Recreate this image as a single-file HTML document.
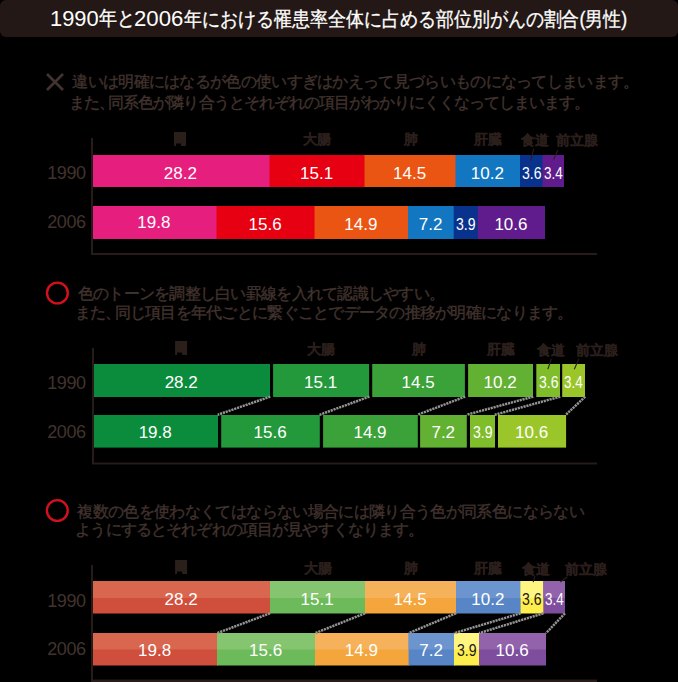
<!DOCTYPE html>
<html><head><meta charset="utf-8"><title>1990年と2006年における罹患率全体に占める部位別がんの割合（男性）</title><style>
html,body{margin:0;padding:0;background:#000;width:678px;height:682px;overflow:hidden}
body{position:relative;font-family:"Liberation Sans",sans-serif}
svg{position:absolute;left:0;top:0}
.t div{position:absolute;white-space:nowrap;transform-origin:0 0}
</style></head><body>
<svg width="678" height="682" viewBox="0 0 678 682">
<path d="M174 132 h12 v14 h-5 v-2.6 h-5 v2.6 h-2 z" fill="#2b1f1c"/>
<path d="M175.1 341 h12 v14 h-5 v-2.6 h-5 v2.6 h-2 z" fill="#2b1f1c"/>
<path d="M175.1 560 h12 v14 h-5 v-2.6 h-5 v2.6 h-2 z" fill="#2b1f1c"/>
<rect x="0" y="0" width="678" height="37" rx="6" ry="6" fill="#231815"/>
<path d="M47 74 L63 90 M63 74 L47 90" stroke="#42332e" stroke-width="2.6" fill="none"/>
<rect x="92.00" y="155.00" width="178.50" height="32.00" fill="#e61e7d"/>
<rect x="92.00" y="206.00" width="125.50" height="33.00" fill="#e61e7d"/>
<rect x="269.50" y="155.00" width="96.00" height="32.00" fill="#e60012"/>
<rect x="216.50" y="206.00" width="99.00" height="33.00" fill="#e60012"/>
<rect x="364.50" y="155.00" width="92.00" height="32.00" fill="#ea5514"/>
<rect x="314.50" y="206.00" width="94.50" height="33.00" fill="#ea5514"/>
<rect x="455.50" y="155.00" width="65.50" height="32.00" fill="#1276c0"/>
<rect x="408.00" y="206.00" width="46.70" height="33.00" fill="#1276c0"/>
<rect x="520.00" y="155.00" width="23.50" height="32.00" fill="#08328c"/>
<rect x="453.70" y="206.00" width="25.10" height="33.00" fill="#08328c"/>
<rect x="542.50" y="155.00" width="21.50" height="32.00" fill="#601c8c"/>
<rect x="477.80" y="206.00" width="67.20" height="33.00" fill="#601c8c"/>
<rect x="91.00" y="138.00" width="2.00" height="117.00" fill="#271c19"/>
<rect x="91.00" y="253.00" width="506.00" height="2.00" fill="#271c19"/>
<line x1="533.70" y1="148.60" x2="530.80" y2="160.40" stroke="#2b1f1c" stroke-width="1.1"/>
<line x1="558.00" y1="150.00" x2="553.50" y2="159.50" stroke="#2b1f1c" stroke-width="1.1"/>
<circle cx="57.4" cy="293" r="10.4" fill="none" stroke="#d3111c" stroke-width="2.4"/>
<rect x="93.30" y="364.00" width="176.70" height="33.00" fill="#0b8c3c"/>
<rect x="93.30" y="415.00" width="124.70" height="32.60" fill="#0b8c3c"/>
<rect x="273.10" y="364.00" width="96.00" height="33.00" fill="#24993c"/>
<rect x="221.20" y="415.00" width="98.60" height="32.60" fill="#24993c"/>
<rect x="372.20" y="364.00" width="92.70" height="33.00" fill="#3ba23a"/>
<rect x="323.10" y="415.00" width="94.70" height="32.60" fill="#3ba23a"/>
<rect x="468.10" y="364.00" width="64.90" height="33.00" fill="#62b133"/>
<rect x="420.10" y="415.00" width="46.70" height="32.60" fill="#62b133"/>
<rect x="536.30" y="364.00" width="23.70" height="33.00" fill="#80bd2b"/>
<rect x="470.00" y="415.00" width="25.00" height="32.60" fill="#80bd2b"/>
<rect x="562.20" y="364.00" width="22.80" height="33.00" fill="#9ac62a"/>
<rect x="498.00" y="415.00" width="68.10" height="32.60" fill="#9ac62a"/>
<rect x="92.00" y="348.00" width="2.00" height="116.00" fill="#271c19"/>
<rect x="92.00" y="462.50" width="505.00" height="2.00" fill="#271c19"/>
<line x1="270.30" y1="396.60" x2="217.70" y2="414.80" stroke="#939393" stroke-width="2.5" stroke-dasharray="2.2 0.8"/>
<line x1="369.40" y1="396.60" x2="319.50" y2="414.80" stroke="#939393" stroke-width="2.5" stroke-dasharray="2.2 0.8"/>
<line x1="465.20" y1="396.60" x2="417.50" y2="414.80" stroke="#939393" stroke-width="2.5" stroke-dasharray="2.2 0.8"/>
<line x1="533.30" y1="396.60" x2="466.50" y2="414.80" stroke="#939393" stroke-width="2.5" stroke-dasharray="2.2 0.8"/>
<line x1="560.30" y1="396.60" x2="494.70" y2="414.80" stroke="#939393" stroke-width="2.5" stroke-dasharray="2.2 0.8"/>
<line x1="585.30" y1="396.60" x2="565.80" y2="414.80" stroke="#939393" stroke-width="2.5" stroke-dasharray="2.2 0.8"/>
<line x1="551.40" y1="358.60" x2="547.90" y2="369.20" stroke="#2b1f1c" stroke-width="1.1"/>
<line x1="579.00" y1="358.60" x2="574.30" y2="369.20" stroke="#2b1f1c" stroke-width="1.1"/>
<circle cx="57.3" cy="510.5" r="10.4" fill="none" stroke="#d3111c" stroke-width="2.4"/>
<rect x="93.00" y="581.00" width="178.00" height="32.50" fill="#cf4e3c"/>
<rect x="93.00" y="581.00" width="178.00" height="17.00" fill="#d9674f"/>
<rect x="93.00" y="633.00" width="125.00" height="32.50" fill="#cf4e3c"/>
<rect x="93.00" y="633.00" width="125.00" height="16.50" fill="#d9674f"/>
<rect x="270.00" y="581.00" width="96.00" height="32.50" fill="#6dba5a"/>
<rect x="270.00" y="581.00" width="96.00" height="17.00" fill="#86c56f"/>
<rect x="217.00" y="633.00" width="99.00" height="32.50" fill="#6dba5a"/>
<rect x="217.00" y="633.00" width="99.00" height="16.50" fill="#86c56f"/>
<rect x="365.00" y="581.00" width="92.00" height="32.50" fill="#f4a53b"/>
<rect x="365.00" y="581.00" width="92.00" height="17.00" fill="#f6b25b"/>
<rect x="315.00" y="633.00" width="94.60" height="32.50" fill="#f4a53b"/>
<rect x="315.00" y="633.00" width="94.60" height="16.50" fill="#f6b25b"/>
<rect x="456.00" y="581.00" width="65.60" height="32.50" fill="#5885c6"/>
<rect x="456.00" y="581.00" width="65.60" height="17.00" fill="#6c95d0"/>
<rect x="408.60" y="633.00" width="46.40" height="32.50" fill="#5885c6"/>
<rect x="408.60" y="633.00" width="46.40" height="16.50" fill="#6c95d0"/>
<rect x="520.60" y="581.00" width="23.70" height="32.50" fill="#fdee4e"/>
<rect x="520.60" y="581.00" width="23.70" height="17.00" fill="#fff581"/>
<rect x="454.00" y="633.00" width="26.00" height="32.50" fill="#fdee4e"/>
<rect x="454.00" y="633.00" width="26.00" height="16.50" fill="#fff581"/>
<rect x="543.30" y="581.00" width="21.70" height="32.50" fill="#7f4d9d"/>
<rect x="543.30" y="581.00" width="21.70" height="17.00" fill="#9263ab"/>
<rect x="479.00" y="633.00" width="67.00" height="32.50" fill="#7f4d9d"/>
<rect x="479.00" y="633.00" width="67.00" height="16.50" fill="#9263ab"/>
<rect x="91.00" y="565.00" width="2.00" height="117.00" fill="#271c19"/>
<rect x="91.00" y="679.50" width="506.00" height="2.50" fill="#271c19"/>
<line x1="270.00" y1="613.30" x2="217.00" y2="633.20" stroke="#939393" stroke-width="2.5" stroke-dasharray="2.2 0.8"/>
<line x1="365.00" y1="613.30" x2="315.00" y2="633.20" stroke="#939393" stroke-width="2.5" stroke-dasharray="2.2 0.8"/>
<line x1="456.00" y1="613.30" x2="408.60" y2="633.20" stroke="#939393" stroke-width="2.5" stroke-dasharray="2.2 0.8"/>
<line x1="520.60" y1="613.30" x2="454.00" y2="633.20" stroke="#939393" stroke-width="2.5" stroke-dasharray="2.2 0.8"/>
<line x1="543.30" y1="613.30" x2="479.00" y2="633.20" stroke="#939393" stroke-width="2.5" stroke-dasharray="2.2 0.8"/>
<line x1="565.00" y1="613.30" x2="546.00" y2="633.20" stroke="#939393" stroke-width="2.5" stroke-dasharray="2.2 0.8"/>
<line x1="535.00" y1="576.20" x2="533.20" y2="582.10" stroke="#2b1f1c" stroke-width="1.1"/>
<line x1="567.40" y1="576.70" x2="560.30" y2="582.10" stroke="#2b1f1c" stroke-width="1.1"/>
</svg>
<div class="t">
<div style="left:50.20px;top:6.10px;font-size:21.6px;line-height:26px;color:#fff;transform:scaleX(1.0128)">1990</div>
<div style="left:98.80px;top:5.30px;font-size:19.8px;line-height:26px;color:#fff;-webkit-text-stroke:0.3px #fff;font-feature-settings:'palt';transform:scaleX(0.9060)">年と</div>
<div style="left:134.00px;top:6.10px;font-size:21.6px;line-height:26px;color:#fff;transform:scaleX(1.0262)">2006</div>
<div style="left:183.80px;top:6.30px;font-size:19.8px;line-height:26px;color:#fff;-webkit-text-stroke:0.3px #fff;font-feature-settings:'palt';transform:scaleX(0.8988)">年における罹患率全体に占める部位別がんの割合(男性)</div>
<div style="left:72.30px;top:72.40px;font-size:16px;line-height:20px;color:#42332e;-webkit-text-stroke:0.35px #42332e;font-feature-settings:'palt';letter-spacing:-0.694px">違いは明確にはなるが色の使いすぎはかえって見づらいものになってしまいます。</div>
<div style="left:69.30px;top:92.70px;font-size:16px;line-height:20px;color:#42332e;-webkit-text-stroke:0.35px #42332e;font-feature-settings:'palt';letter-spacing:-0.979px">また<span style="margin-right:-6px">、</span>同系色が隣り合うとそれぞれの項目がわかりにくくなってしまいます。</div>
<div style="left:77.80px;top:284.00px;font-size:16px;line-height:20px;color:#42332e;-webkit-text-stroke:0.35px #42332e;font-feature-settings:'palt';letter-spacing:-0.730px">色のトーンを調整し白い罫線を入れて認識しやすい。</div>
<div style="left:74.80px;top:302.50px;font-size:16px;line-height:20px;color:#42332e;-webkit-text-stroke:0.35px #42332e;font-feature-settings:'palt';letter-spacing:-0.734px">また<span style="margin-right:-6px">、</span>同じ項目を年代ごとに繋ぐことでデータの推移が明確になります。</div>
<div style="left:77.30px;top:501.70px;font-size:16px;line-height:20px;color:#42332e;-webkit-text-stroke:0.35px #42332e;font-feature-settings:'palt';letter-spacing:-0.647px">複数の色を使わなくてはならない場合には隣り合う色が同系色にならない</div>
<div style="left:75.30px;top:520.40px;font-size:16px;line-height:20px;color:#42332e;-webkit-text-stroke:0.35px #42332e;font-feature-settings:'palt';letter-spacing:-0.855px">ようにするとそれぞれの項目が見やすくなります。</div>
<div style="left:47.20px;top:163.20px;font-size:18px;line-height:20px;color:#42332e;letter-spacing:-0.367px">1990</div>
<div style="left:47.20px;top:212.00px;font-size:18px;line-height:20px;color:#42332e;letter-spacing:-0.367px">2006</div>
<div style="left:47.20px;top:373.20px;font-size:18px;line-height:20px;color:#42332e;letter-spacing:-0.367px">1990</div>
<div style="left:47.20px;top:422.40px;font-size:18px;line-height:20px;color:#42332e;letter-spacing:-0.367px">2006</div>
<div style="left:47.20px;top:590.70px;font-size:18px;line-height:20px;color:#42332e;letter-spacing:-0.367px">1990</div>
<div style="left:47.20px;top:639.00px;font-size:18px;line-height:20px;color:#42332e;letter-spacing:-0.367px">2006</div>
<div style="left:163.75px;top:163.60px;font-size:17px;line-height:20px;color:#fff">28.2</div>
<div style="left:137.25px;top:213.30px;font-size:17px;line-height:20px;color:#fff">19.8</div>
<div style="left:300.00px;top:163.60px;font-size:17px;line-height:20px;color:#fff">15.1</div>
<div style="left:248.50px;top:214.90px;font-size:17px;line-height:20px;color:#fff">15.6</div>
<div style="left:393.00px;top:163.60px;font-size:17px;line-height:20px;color:#fff">14.5</div>
<div style="left:344.25px;top:214.90px;font-size:17px;line-height:20px;color:#fff">14.9</div>
<div style="left:470.75px;top:163.60px;font-size:17px;line-height:20px;color:#fff">10.2</div>
<div style="left:418.85px;top:214.90px;font-size:17px;line-height:20px;color:#fff">7.2</div>
<div style="left:521.75px;top:163.60px;font-size:17px;line-height:20px;color:#fff;transform:scaleX(0.8261)">3.6</div>
<div style="left:456.25px;top:214.90px;font-size:17px;line-height:20px;color:#fff;transform:scaleX(0.8261)">3.9</div>
<div style="left:543.75px;top:163.60px;font-size:17px;line-height:20px;color:#fff;transform:scaleX(0.7917)">3.4</div>
<div style="left:494.40px;top:214.90px;font-size:17px;line-height:20px;color:#fff">10.6</div>
<div style="left:303.00px;top:130.10px;font-size:14px;line-height:18px;font-weight:bold;color:#2b1f1c;-webkit-text-stroke:0.2px #2b1f1c">大腸</div>
<div style="left:403.50px;top:130.10px;font-size:14px;line-height:18px;font-weight:bold;color:#2b1f1c;-webkit-text-stroke:0.2px #2b1f1c">肺</div>
<div style="left:473.75px;top:130.10px;font-size:14px;line-height:18px;font-weight:bold;color:#2b1f1c;-webkit-text-stroke:0.2px #2b1f1c">肝臓</div>
<div style="left:520.60px;top:131.30px;font-size:14px;line-height:18px;font-weight:bold;color:#2b1f1c;-webkit-text-stroke:0.2px #2b1f1c">食道</div>
<div style="left:556.00px;top:131.30px;font-size:14px;line-height:18px;font-weight:bold;color:#2b1f1c;-webkit-text-stroke:0.2px #2b1f1c">前立腺</div>
<div style="left:164.65px;top:373.00px;font-size:17px;line-height:20px;color:#fff">28.2</div>
<div style="left:138.65px;top:422.50px;font-size:17px;line-height:20px;color:#fff">19.8</div>
<div style="left:304.10px;top:373.00px;font-size:17px;line-height:20px;color:#fff">15.1</div>
<div style="left:253.50px;top:422.50px;font-size:17px;line-height:20px;color:#fff">15.6</div>
<div style="left:401.55px;top:373.00px;font-size:17px;line-height:20px;color:#fff">14.5</div>
<div style="left:353.45px;top:422.50px;font-size:17px;line-height:20px;color:#fff">14.9</div>
<div style="left:483.55px;top:373.00px;font-size:17px;line-height:20px;color:#fff">10.2</div>
<div style="left:431.45px;top:422.50px;font-size:17px;line-height:20px;color:#fff">7.2</div>
<div style="left:538.65px;top:373.00px;font-size:17px;line-height:20px;color:#fff;transform:scaleX(0.8261)">3.6</div>
<div style="left:473.00px;top:422.50px;font-size:17px;line-height:20px;color:#fff;transform:scaleX(0.8261)">3.9</div>
<div style="left:564.10px;top:373.00px;font-size:17px;line-height:20px;color:#fff;transform:scaleX(0.7917)">3.4</div>
<div style="left:515.05px;top:422.50px;font-size:17px;line-height:20px;color:#fff">10.6</div>
<div style="left:307.10px;top:340.10px;font-size:14px;line-height:18px;font-weight:bold;color:#2b1f1c;-webkit-text-stroke:0.2px #2b1f1c">大腸</div>
<div style="left:412.05px;top:340.10px;font-size:14px;line-height:18px;font-weight:bold;color:#2b1f1c;-webkit-text-stroke:0.2px #2b1f1c">肺</div>
<div style="left:486.55px;top:340.10px;font-size:14px;line-height:18px;font-weight:bold;color:#2b1f1c;-webkit-text-stroke:0.2px #2b1f1c">肝臓</div>
<div style="left:537.00px;top:341.30px;font-size:14px;line-height:18px;font-weight:bold;color:#2b1f1c;-webkit-text-stroke:0.2px #2b1f1c">食道</div>
<div style="left:576.00px;top:341.30px;font-size:14px;line-height:18px;font-weight:bold;color:#2b1f1c;-webkit-text-stroke:0.2px #2b1f1c">前立腺</div>
<div style="left:164.50px;top:590.40px;font-size:17px;line-height:20px;color:#fff">28.2</div>
<div style="left:138.00px;top:641.00px;font-size:17px;line-height:20px;color:#fff">19.8</div>
<div style="left:300.50px;top:590.40px;font-size:17px;line-height:20px;color:#fff">15.1</div>
<div style="left:249.00px;top:641.00px;font-size:17px;line-height:20px;color:#fff">15.6</div>
<div style="left:393.50px;top:590.40px;font-size:17px;line-height:20px;color:#fff">14.5</div>
<div style="left:344.80px;top:641.00px;font-size:17px;line-height:20px;color:#fff">14.9</div>
<div style="left:471.30px;top:590.40px;font-size:17px;line-height:20px;color:#fff">10.2</div>
<div style="left:419.30px;top:641.00px;font-size:17px;line-height:20px;color:#fff">7.2</div>
<div style="left:522.45px;top:590.40px;font-size:17px;line-height:20px;color:#231815;transform:scaleX(0.8261)">3.6</div>
<div style="left:457.00px;top:641.00px;font-size:17px;line-height:20px;color:#231815;transform:scaleX(0.8261)">3.9</div>
<div style="left:544.65px;top:590.40px;font-size:17px;line-height:20px;color:#fff;transform:scaleX(0.7917)">3.4</div>
<div style="left:495.50px;top:641.00px;font-size:17px;line-height:20px;color:#fff">10.6</div>
<div style="left:303.50px;top:558.90px;font-size:14px;line-height:18px;font-weight:bold;color:#2b1f1c;-webkit-text-stroke:0.2px #2b1f1c">大腸</div>
<div style="left:404.00px;top:558.90px;font-size:14px;line-height:18px;font-weight:bold;color:#2b1f1c;-webkit-text-stroke:0.2px #2b1f1c">肺</div>
<div style="left:474.30px;top:558.90px;font-size:14px;line-height:18px;font-weight:bold;color:#2b1f1c;-webkit-text-stroke:0.2px #2b1f1c">肝臓</div>
<div style="left:521.90px;top:560.10px;font-size:14px;line-height:18px;font-weight:bold;color:#2b1f1c;-webkit-text-stroke:0.2px #2b1f1c">食道</div>
<div style="left:564.80px;top:560.10px;font-size:14px;line-height:18px;font-weight:bold;color:#2b1f1c;-webkit-text-stroke:0.2px #2b1f1c">前立腺</div>
</div>
</body></html>
